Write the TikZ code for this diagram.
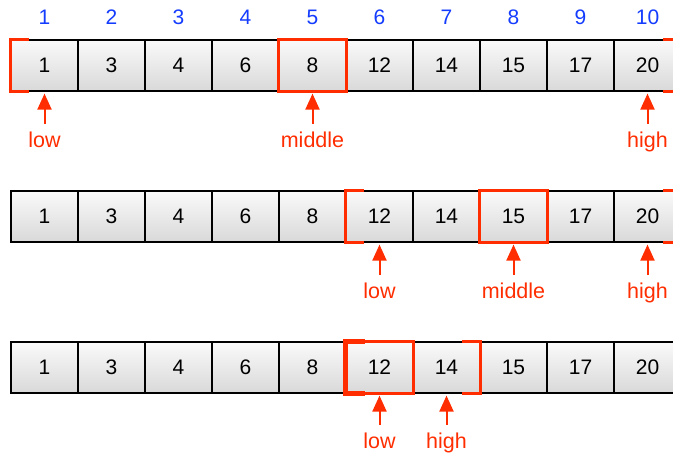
\documentclass[tikz,border=0pt]{standalone}
\usepackage{fontspec}
\setmainfont{Liberation Sans}
\usetikzlibrary{arrows.meta}
\definecolor{hl}{RGB}{255,45,0}
\definecolor{idx}{RGB}{20,60,255}
\tikzset{
  cell/.style={draw=black, line width=1.2pt, minimum width=67pt, minimum height=51pt,
    inner sep=0pt, text height=15pt, text depth=0pt, top color=gray!4, bottom color=gray!30, font=\fontsize{21}{24}\selectfont},
  idxlbl/.style={text=idx, anchor=base, inner sep=0pt, font=\fontsize{21}{24}\selectfont},
  ptrlbl/.style={text=hl, anchor=base, inner sep=0pt, font=\fontsize{21.5}{24}\selectfont},
  brk/.style={draw=hl, line width=3.5pt, line join=miter, line cap=rect},
  arr/.style={draw=hl, line width=2pt, -{Triangle[length=16pt,width=14pt]}}
}
\newcommand{\lowbrk}[1]{\draw[brk] ([xshift=17pt]#1.north west) -- (#1.north west) -- (#1.south west) -- ([xshift=17pt]#1.south west);}
\newcommand{\highbrk}[1]{\draw[brk] ([xshift=-17pt]#1.north east) -- (#1.north east) -- (#1.south east) -- ([xshift=-17pt]#1.south east);}
\newcommand{\midbox}[1]{\draw[brk] (#1.north west) rectangle (#1.south east);}
\begin{document}
\begin{tikzpicture}[x=1pt,y=-1pt]
\useasboundingbox (0,0) rectangle (673,457);
% index labels
\foreach \i in {1,...,10}{
  \node[idxlbl] (i\i) at ({44.5+67*(\i-1)},25) {\i};
}
% rows
\foreach \r/\y in {1/65.5,2/216.5,3/367.5}{
  \foreach \v [count=\i] in {1,3,4,6,8,12,14,15,17,20}{
    \node[cell] (r\r c\i) at ({44.5+67*(\i-1)},\y) {\v};
  }
}
% row 1
\node[ptrlbl] (l1) at (r1c1.south |- 0,148) {low};
\node[ptrlbl] (m1) at (r1c5.south |- 0,148) {middle};
\node[ptrlbl] (h1) at (r1c10.south |- 0,148) {high};
\lowbrk{r1c1}
\midbox{r1c5}
\highbrk{r1c10}
\foreach \a/\c in {l1/r1c1,m1/r1c5,h1/r1c10}{
  \draw[arr] ([yshift=8pt]\a.north) -- ([yshift=-2pt]\c.south);
}
% row 2
\node[ptrlbl] (l2) at (r2c6.south |- 0,299) {low};
\node[ptrlbl] (m2) at (r2c8.south |- 0,299) {middle};
\node[ptrlbl] (h2) at (r2c10.south |- 0,299) {high};
\lowbrk{r2c6}
\midbox{r2c8}
\highbrk{r2c10}
\foreach \a/\c in {l2/r2c6,m2/r2c8,h2/r2c10}{
  \draw[arr] ([yshift=8pt]\a.north) -- ([yshift=-2pt]\c.south);
}
% row 3
\node[ptrlbl] (l3) at (r3c6.south |- 0,449) {low};
\node[ptrlbl] (h3) at (r3c7.south |- 0,449) {high};
\midbox{r3c6}
\draw[brk, line width=5pt] ([xshift=17pt]r3c6.north west) -- (r3c6.north west) -- (r3c6.south west) -- ([xshift=17pt]r3c6.south west);
\highbrk{r3c7}
\foreach \a/\c in {l3/r3c6,h3/r3c7}{
  \draw[arr] ([yshift=8pt]\a.north) -- ([yshift=-2pt]\c.south);
}
\end{tikzpicture}
\end{document}
